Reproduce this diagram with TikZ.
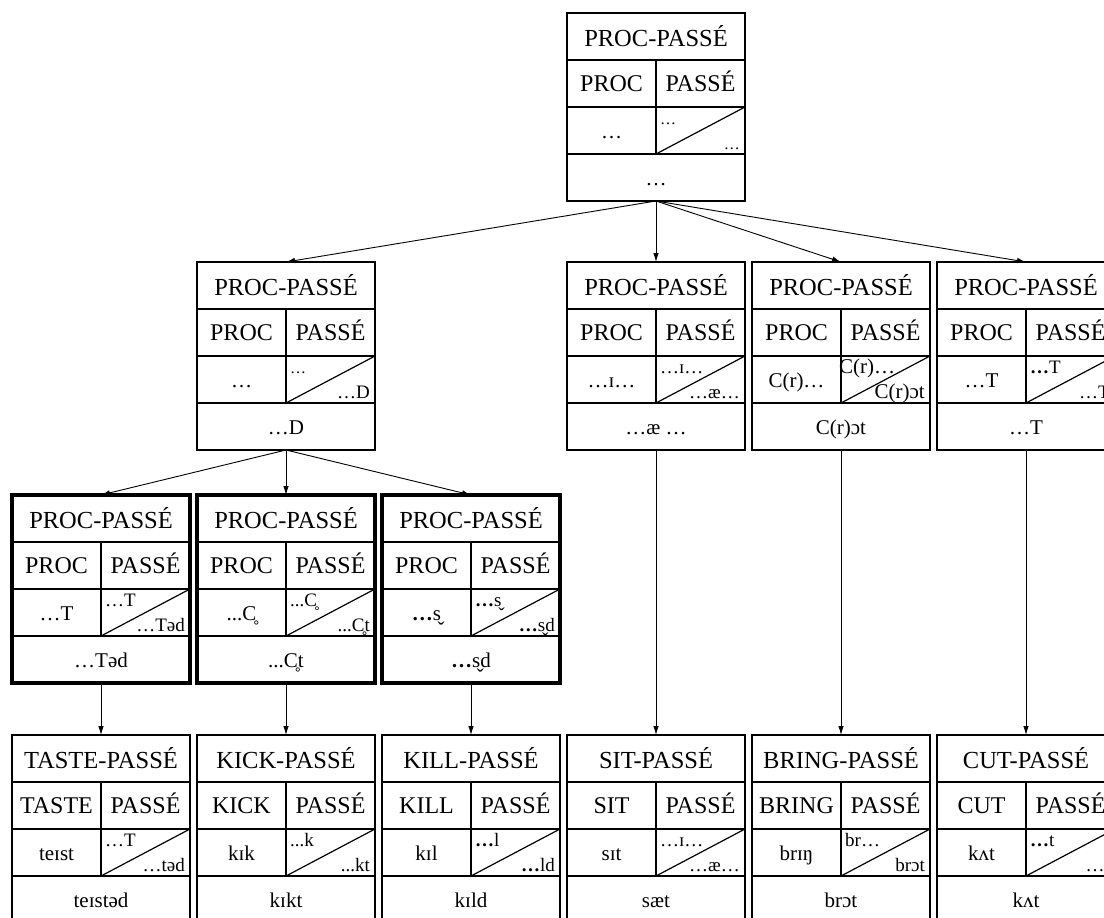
\documentclass[tikz,border=0pt]{standalone}
\usepackage{fontspec}
\setmainfont{Liberation Serif}
\usepackage{tikz}
\usetikzlibrary{arrows.meta}
\newcommand{\titlesz}{\fontsize{24.5}{27}\selectfont}
\newcommand{\bigsz}{\fontsize{24}{27}\selectfont}
\newcommand{\midsz}{\fontsize{21}{24}\selectfont}
\newcommand{\smallsz}{\fontsize{19}{21}\selectfont}
\newcommand{\tinysz}{\fontsize{16}{18}\selectfont}
\newcommand{\bdots}{\textbf{…}}
% fills a frame node with the four rows of a paradigm cell
\newcommand{\paradigm}[8]{%
  \draw[gridline] ([yshift=-47pt]#1.north west) -- ([yshift=-47pt]#1.north east);
  \draw[gridline] ([yshift=-94pt]#1.north west) -- ([yshift=-94pt]#1.north east);
  \draw[gridline] ([yshift=-141pt]#1.north west) -- ([yshift=-141pt]#1.north east);
  \draw[gridline] ([yshift=-47pt]#1.north) -- ([yshift=-141pt]#1.north);
  \draw[gridline] ([yshift=-141pt]#1.north) -- ([yshift=-94pt]#1.north east);
  \node[titletext] (#1-title) at ([yshift=-33pt]#1.north) {#2};
  \node[bigtext] (#1-lhead) at ([xshift=-44.5pt,yshift=-78.5pt]#1.north) {#3};
  \node[bigtext] (#1-rhead) at ([xshift=44.5pt,yshift=-78.5pt]#1.north) {#4};
  \node[midtext] (#1-form) at ([xshift=-44.5pt,yshift=-125.5pt]#1.north) {#5};
  \node[smalltext, anchor=base west] (#1-up)
    at ([xshift=4pt,yshift=-111pt]#1.north) {#6};
  \node[smalltext, anchor=base east] (#1-down)
    at ([xshift=-5pt,yshift=-136pt]#1.north east) {#7};
  \node[midtext] (#1-out) at ([yshift=-172.5pt]#1.north) {#8};
}

\begin{document}
\begin{tikzpicture}[x=1pt, y=-1pt,
    cellframe/.style={draw, line width=1.2pt, minimum width=178pt,
      minimum height=188pt, inner sep=0pt, outer sep=0pt},
    boldframe/.style={cellframe, line width=4.5pt},
    gridline/.style={line width=1.2pt},
    titletext/.style={font=\titlesz, inner sep=0pt, anchor=base},
    bigtext/.style={font=\bigsz, inner sep=0pt, anchor=base},
    midtext/.style={font=\midsz, inner sep=0pt, anchor=base},
    smalltext/.style={font=\smallsz, inner sep=0pt},
    link/.style={-{Latex[length=9pt,width=5.5pt]}, line width=0.9pt}]

  \fill[white] (0,0) rectangle (1104,918);
  \useasboundingbox (0,0) rectangle (1104,918);
  \clip (0,0) rectangle (1104,918);

  % Top: general schema
  \node[cellframe] (root) at (656,107) {};
  \paradigm{root}{PROC-PASSÉ}{PROC}{PASSÉ}{…}{\tinysz …}{\tinysz …}{…}

  % Second level
  \node[cellframe] (dgen) at (286,356) {};
  \paradigm{dgen}{PROC-PASSÉ}{PROC}{PASSÉ}{…}{\tinysz …}{…D}{…D}
  \node[cellframe] (ablaut) at (656,356) {};
  \paradigm{ablaut}{PROC-PASSÉ}{PROC}{PASSÉ}{…ɪ…}{…ɪ…}{…æ…}{…æ …}
  \node[cellframe] (crot) at (841,356) {};
  \paradigm{crot}{PROC-PASSÉ}{PROC}{PASSÉ}{C(r)…}{\midsz\hspace*{-6pt}C(r)…}{\midsz C(r)ɔt}{C(r)ɔt}
  \node[cellframe] (zero) at (1026,356) {};
  \paradigm{zero}{PROC-PASSÉ}{PROC}{PASSÉ}{…T}{\bdots T}{…T}{…T}

  % Third level: the three allomorphs of -D
  \node[boldframe] (dT) at (101,589) {};
  \paradigm{dT}{PROC-PASSÉ}{PROC}{PASSÉ}{…T}{…T}{…Təd}{…Təd}
  \node[boldframe] (dC) at (286,589) {};
  \paradigm{dC}{PROC-PASSÉ}{PROC}{PASSÉ}{...C̥}{...C̥}{...C̥t}{...C̥t}
  \node[boldframe] (dS) at (471,589) {};
  \paradigm{dS}{PROC-PASSÉ}{PROC}{PASSÉ}{\bdots s̬}{\bdots s̬}{\bdots s̬d}{\bdots s̬d}

  % Bottom: lexical items
  \node[cellframe] (taste) at (101,829) {};
  \paradigm{taste}{TASTE-PASSÉ}{TASTE}{PASSÉ}{teɪst}{…T}{…təd}{teɪstəd}
  \node[cellframe] (kick) at (286,829) {};
  \paradigm{kick}{KICK-PASSÉ}{KICK}{PASSÉ}{kɪk}{...k}{...kt}{kɪkt}
  \node[cellframe] (kill) at (471,829) {};
  \paradigm{kill}{KILL-PASSÉ}{KILL}{PASSÉ}{kɪl}{\bdots l}{\bdots ld}{kɪld}
  \node[cellframe] (sit) at (656,829) {};
  \paradigm{sit}{SIT-PASSÉ}{SIT}{PASSÉ}{sɪt}{…ɪ…}{…æ…}{sæt}
  \node[cellframe] (bring) at (841,829) {};
  \paradigm{bring}{BRING-PASSÉ}{BRING}{PASSÉ}{brɪŋ}{br…}{brɔt}{brɔt}
  \node[cellframe] (cut) at (1026,829) {};
  \paradigm{cut}{CUT-PASSÉ}{CUT}{PASSÉ}{kʌt}{\bdots t}{…t}{kʌt}

  \draw[link] (root.south) -- (dgen.north);
  \draw[link] (root.south) -- (ablaut.north);
  \draw[link] (root.south) -- (crot.north);
  \draw[link] (root.south) -- (zero.north);
  \draw[link] (dgen.south) -- (dT.north);
  \draw[link] (dgen.south) -- (dC.north);
  \draw[link] (dgen.south) -- (dS.north);
  \draw[link] (dT.south) -- (taste.north);
  \draw[link] (dC.south) -- (kick.north);
  \draw[link] (dS.south) -- (kill.north);
  \draw[link] (ablaut.south) -- (sit.north);
  \draw[link] (crot.south) -- (bring.north);
  \draw[link] (zero.south) -- (cut.north);

\end{tikzpicture}
\end{document}
